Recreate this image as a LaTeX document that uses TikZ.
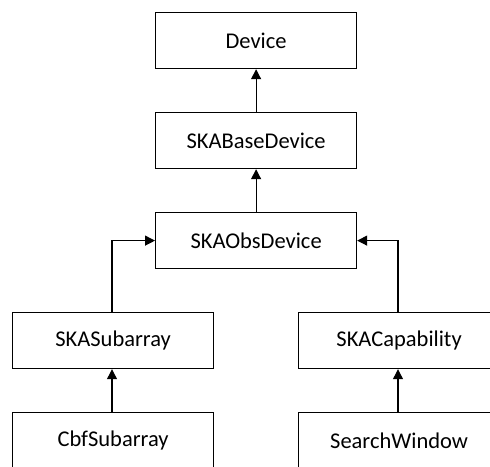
\documentclass[tikz,border=0pt]{standalone}
\usepackage{fontspec}
\setmainfont{Carlito}
\usetikzlibrary{arrows.meta}
\tikzset{
  cls/.style={draw=black, line width=1.2pt, minimum width=201pt, minimum height=56pt,
    inner sep=0pt, font=\fontsize{22.5}{25}\selectfont, anchor=north west},
  inherit/.style={draw=black, line width=1.2pt, -{Triangle[length=10pt,width=10pt]}}
}
\begin{document}
\begin{tikzpicture}[x=1pt,y=-1pt]
  \useasboundingbox (0,0) rectangle (490,466);
  \clip (0,0) rectangle (490,466);
  % class boxes
  \node[cls] (dev)  at (155,12)  {Device};
  \node[cls] (base) at (155,112) {SKABaseDevice};
  \node[cls] (obs)  at (155,212) {SKAObsDevice};
  \node[cls] (sub)  at (12,312)  {SKASubarray};
  \node[cls] (cap)  at (298,312) {SKACapability};
  \node[cls] (cbf)  at (12,412)  {CbfSubarray};
  \node[cls] (sw)   at (298,412) {SearchWindow};
  % inheritance arrows
  \draw[inherit] (base.north) -- (dev.south);
  \draw[inherit] (obs.north) -- (base.south);
  \draw[inherit] (sub.north -| 112,0) |- (obs.west);
  \draw[inherit] (cap.north -| 398,0) |- (obs.east);
  \draw[inherit] (cbf.north -| 112,0) -- (sub.south -| 112,0);
  \draw[inherit] (sw.north -| 398,0) -- (cap.south -| 398,0);
\end{tikzpicture}
\end{document}
